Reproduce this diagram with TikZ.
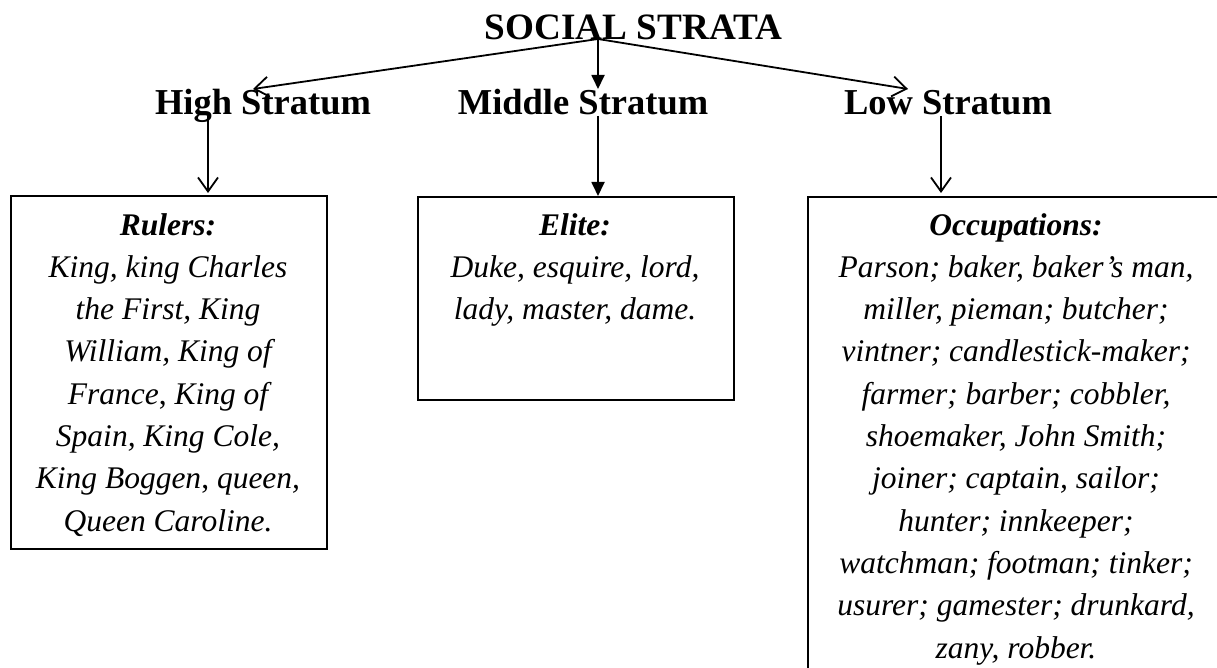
\documentclass[tikz,border=0pt]{standalone}
\usepackage{fontspec}
\setmainfont{Liberation Serif}
\usetikzlibrary{arrows.meta}

\tikzset{
  head/.style={inner sep=0pt, anchor=base, font=\fontsize{36.5}{40}\selectfont\bfseries},
  titlehead/.style={head, font=\fontsize{37.2}{40}\selectfont\bfseries},
  listtext/.style={inner sep=0pt, anchor=north, align=center,
    font=\fontsize{31.5}{42.3}\selectfont\itshape},
  framebox/.style={draw, line width=1.8pt, inner sep=0pt, anchor=north west},
  link/.style={line width=1.8pt},
  openhead/.style={link, -{Straight Barb[length=14pt,width=20pt,line width=1.8pt]}},
  solidhead/.style={link, -{Triangle[length=14pt,width=13pt]}}
}

\begin{document}
\begin{tikzpicture}[x=1pt, y=-1pt]
\useasboundingbox (0,0) rectangle (1217,668);
\begin{scope}
\clip (0,0) rectangle (1217,668);

% headings
\node[titlehead] (title) at (633.5,39.5) {SOCIAL STRATA};
\node[head] (high)  at (263,115) {High Stratum};
\node[head] (mid)   at (583,115) {Middle Stratum};
\node[head] (low)   at (948,115) {Low Stratum};

% frames
\node[framebox, minimum width=316pt, minimum height=353pt] (lbox) at (10,195) {};
\node[framebox, minimum width=316pt, minimum height=203pt] (mbox) at (417,196) {};
\node[framebox, minimum width=440pt, minimum height=520pt] (rbox) at (807,196) {};

% frame contents
\node[listtext] (ltext) at (168,213) {\textbf{Rulers:}\\
King, king Charles\\
the First, King\\
William, King of\\
France{\upshape,} King of\\
Spain, King Cole,\\
King Boggen{\upshape,} queen,\\
Queen Caroline.};
\node[listtext] (mtext) at (575,213) {\textbf{Elite:}\\
Duke, esquire, lord,\\
lady, master, dame.};
\node[listtext] (rtext) at (1016,213) {\textbf{Occupations:}\\
Parson; baker, baker’s man,\\
miller, pieman; butcher;\\
vintner; candlestick-maker;\\
farmer; barber; cobbler,\\
shoemaker, John Smith;\\
joiner; captain, sailor;\\
hunter; innkeeper;\\
watchman; footman; tinker;\\
usurer; gamester; drunkard,\\
zany, robber.};

% connector end points
\coordinate (root)   at (598,39);
\coordinate (hstip)  at (253,89);
\coordinate (mstip)  at (598,89);
\coordinate (lstip)  at (908,89);
\coordinate (hsfoot) at (208,116);
\coordinate (msfoot) at (598,116);
\coordinate (lsfoot) at (941,116);
\coordinate (lin)    at (208,193);
\coordinate (min)    at (598,196);
\coordinate (rin)    at (941,193);

% connectors
\draw[openhead]  (root) -- (hstip);
\draw[solidhead] (root) -- (mstip);
\draw[openhead]  (root) -- (lstip);
\draw[openhead]  (hsfoot) -- (lin);
\draw[solidhead] (msfoot) -- (min);
\draw[openhead]  (lsfoot) -- (rin);
\end{scope}
\end{tikzpicture}
\end{document}
